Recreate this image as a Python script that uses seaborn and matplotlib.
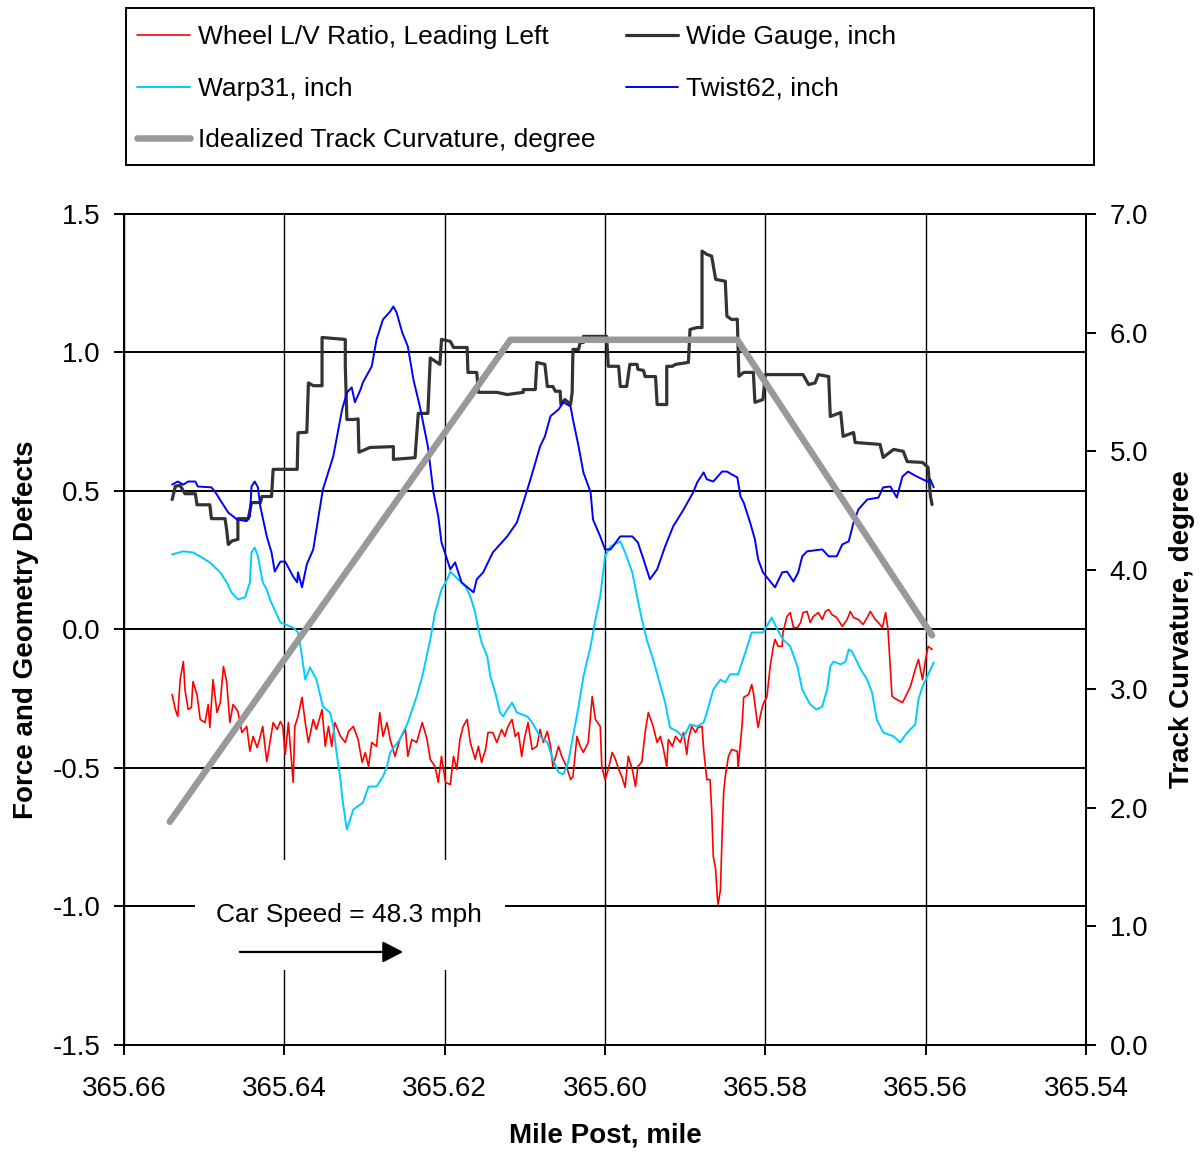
import matplotlib
matplotlib.use("Agg")
import matplotlib.pyplot as plt
import seaborn as sns
import pandas as pd
from matplotlib.patches import Rectangle
from matplotlib.lines import Line2D
from matplotlib.ticker import FormatStrFormatter, MultipleLocator

# ---------------------------------------------------------------- data
# Wheel L/V ratio, leading left wheel
lv_mile = [365.6540, 365.6536, 365.6533, 365.6530, 365.6526, 365.6524, 365.6520, 365.6516,
           365.6514, 365.6509, 365.6505, 365.6499, 365.6495, 365.6493, 365.6489, 365.6484,
           365.6480, 365.6476, 365.6472, 365.6468, 365.6464, 365.6458, 365.6453, 365.6447,
           365.6443, 365.6439, 365.6434, 365.6430, 365.6427, 365.6422, 365.6418, 365.6414,
           365.6409, 365.6405, 365.6402, 365.6399, 365.6395, 365.6389, 365.6387, 365.6383,
           365.6378, 365.6374, 365.6370, 365.6364, 365.6360, 365.6353, 365.6349, 365.6345,
           365.6341, 365.6337, 365.6330, 365.6324, 365.6320, 365.6314, 365.6308, 365.6303,
           365.6299, 365.6295, 365.6291, 365.6285, 365.6281, 365.6277, 365.6272, 365.6268,
           365.6262, 365.6256, 365.6249, 365.6246, 365.6241, 365.6235, 365.6228, 365.6222,
           365.6218, 365.6212, 365.6208, 365.6204, 365.6199, 365.6193, 365.6189, 365.6185,
           365.6181, 365.6177, 365.6172, 365.6168, 365.6162, 365.6158, 365.6154, 365.6149,
           365.6146, 365.6140, 365.6135, 365.6129, 365.6125, 365.6121, 365.6116, 365.6112,
           365.6108, 365.6104, 365.6100, 365.6096, 365.6091, 365.6085, 365.6081, 365.6077,
           365.6072, 365.6068, 365.6065, 365.6058, 365.6054, 365.6048, 365.6043, 365.6040,
           365.6035, 365.6031, 365.6027, 365.6021, 365.6016, 365.6012, 365.6006, 365.6004,
           365.6000, 365.5996, 365.5991, 365.5987, 365.5983, 365.5979, 365.5975, 365.5971,
           365.5966, 365.5962, 365.5959, 365.5954, 365.5950, 365.5946, 365.5940, 365.5935,
           365.5931, 365.5927, 365.5923, 365.5921, 365.5916, 365.5912, 365.5906, 365.5902,
           365.5898, 365.5896, 365.5892, 365.5887, 365.5884, 365.5879, 365.5877, 365.5873,
           365.5869, 365.5867, 365.5865, 365.5862, 365.5860, 365.5859, 365.5856, 365.5854,
           365.5852, 365.5850, 365.5846, 365.5842, 365.5835, 365.5834, 365.5831, 365.5829,
           365.5827, 365.5821, 365.5817, 365.5815, 365.5810, 365.5809, 365.5806, 365.5803,
           365.5798, 365.5794, 365.5790, 365.5788, 365.5784, 365.5779, 365.5778, 365.5773,
           365.5769, 365.5765, 365.5760, 365.5756, 365.5753, 365.5748, 365.5744, 365.5740,
           365.5734, 365.5729, 365.5725, 365.5721, 365.5717, 365.5711, 365.5704, 365.5698,
           365.5694, 365.5690, 365.5684, 365.5678, 365.5673, 365.5669, 365.5663, 365.5659,
           365.5654, 365.5650, 365.5647, 365.5644, 365.5642, 365.5636, 365.5629, 365.5625,
           365.5619, 365.5613, 365.5609, 365.5604, 365.5600, 365.5597, 365.5592]
lv_ratio = [-0.235, -0.289, -0.314, -0.181, -0.116, -0.217, -0.289, -0.282,
            -0.188, -0.235, -0.325, -0.336, -0.271, -0.354, -0.181, -0.300,
            -0.264, -0.134, -0.188, -0.336, -0.271, -0.296, -0.372, -0.350,
            -0.440, -0.386, -0.426, -0.386, -0.350, -0.477, -0.408, -0.336,
            -0.361, -0.332, -0.350, -0.451, -0.336, -0.552, -0.350, -0.314,
            -0.245, -0.336, -0.408, -0.325, -0.361, -0.289, -0.422, -0.350,
            -0.422, -0.336, -0.386, -0.408, -0.368, -0.350, -0.397, -0.480,
            -0.444, -0.495, -0.408, -0.422, -0.300, -0.386, -0.336, -0.397,
            -0.458, -0.397, -0.361, -0.458, -0.397, -0.408, -0.336, -0.397,
            -0.469, -0.495, -0.552, -0.458, -0.552, -0.560, -0.458, -0.505,
            -0.397, -0.350, -0.325, -0.408, -0.469, -0.422, -0.480, -0.433,
            -0.372, -0.372, -0.408, -0.361, -0.386, -0.350, -0.325, -0.386,
            -0.372, -0.458, -0.386, -0.336, -0.433, -0.422, -0.361, -0.408,
            -0.368, -0.422, -0.495, -0.422, -0.458, -0.495, -0.542, -0.531,
            -0.386, -0.422, -0.444, -0.408, -0.242, -0.325, -0.350, -0.495,
            -0.542, -0.505, -0.444, -0.469, -0.505, -0.531, -0.570, -0.458,
            -0.505, -0.567, -0.495, -0.477, -0.372, -0.300, -0.350, -0.408,
            -0.386, -0.433, -0.495, -0.397, -0.422, -0.386, -0.408, -0.372,
            -0.451, -0.397, -0.350, -0.372, -0.354, -0.350, -0.433, -0.542,
            -0.542, -0.650, -0.819, -0.866, -0.964, -0.993, -0.939, -0.747,
            -0.588, -0.531, -0.458, -0.433, -0.440, -0.498, -0.408, -0.343,
            -0.245, -0.235, -0.199, -0.227, -0.336, -0.354, -0.307, -0.271,
            -0.242, -0.134, -0.061, -0.036, -0.061, -0.061, -0.011, 0.047,
            0.061, 0.007, 0.007, 0.025, 0.061, 0.065, 0.025, 0.047,
            0.061, 0.036, 0.065, 0.072, 0.054, 0.043, 0.011, 0.036,
            0.065, 0.043, 0.036, 0.018, 0.043, 0.065, 0.036, 0.025,
            0.007, 0.061, 0.000, -0.144, -0.242, -0.253, -0.264, -0.242,
            -0.206, -0.144, -0.108, -0.181, -0.108, -0.061, -0.072]

# Wide gauge, inch
gauge_mile = [365.6540, 365.6536, 365.6530, 365.6524, 365.6511, 365.6509, 365.6493, 365.6491,
              365.6474, 365.6472, 365.6470, 365.6465, 365.6458, 365.6458, 365.6445, 365.6441,
              365.6430, 365.6428, 365.6416, 365.6414, 365.6384, 365.6383, 365.6372, 365.6370,
              365.6364, 365.6353, 365.6353, 365.6324, 365.6324, 365.6322, 365.6314, 365.6308,
              365.6307, 365.6293, 365.6264, 365.6264, 365.6237, 365.6233, 365.6221, 365.6218,
              365.6206, 365.6204, 365.6193, 365.6189, 365.6172, 365.6171, 365.6160, 365.6158,
              365.6135, 365.6122, 365.6102, 365.6102, 365.6087, 365.6085, 365.6075, 365.6072,
              365.6065, 365.6062, 365.6056, 365.6055, 365.6050, 365.6043, 365.6041, 365.6040,
              365.6033, 365.6031, 365.6027, 365.6027, 365.5998, 365.5996, 365.5983, 365.5981,
              365.5973, 365.5969, 365.5960, 365.5959, 365.5952, 365.5950, 365.5937, 365.5935,
              365.5923, 365.5923, 365.5916, 365.5912, 365.5896, 365.5894, 365.5885, 365.5879,
              365.5879, 365.5873, 365.5867, 365.5862, 365.5850, 365.5848, 365.5842, 365.5835,
              365.5833, 365.5827, 365.5815, 365.5813, 365.5803, 365.5800, 365.5753, 365.5746,
              365.5738, 365.5734, 365.5721, 365.5719, 365.5706, 365.5703, 365.5690, 365.5688,
              365.5657, 365.5653, 365.5640, 365.5628, 365.5623, 365.5604, 365.5597, 365.5594,
              365.5592]
gauge_inch = [0.469, 0.517, 0.520, 0.490, 0.490, 0.450, 0.450, 0.400,
              0.400, 0.360, 0.307, 0.320, 0.325, 0.400, 0.400, 0.458,
              0.458, 0.480, 0.480, 0.578, 0.578, 0.710, 0.712, 0.890,
              0.880, 0.880, 1.054, 1.047, 0.950, 0.758, 0.758, 0.760,
              0.640, 0.657, 0.660, 0.614, 0.620, 0.780, 0.780, 0.980,
              0.957, 1.047, 1.040, 1.018, 1.018, 0.928, 0.928, 0.856,
              0.856, 0.848, 0.856, 0.866, 0.866, 0.964, 0.957, 0.877,
              0.877, 0.860, 0.860, 0.812, 0.830, 0.812, 0.856, 1.011,
              1.011, 1.036, 1.036, 1.058, 1.058, 0.950, 0.950, 0.877,
              0.877, 0.957, 0.957, 0.939, 0.935, 0.913, 0.913, 0.812,
              0.812, 0.950, 0.950, 0.957, 0.964, 1.083, 1.090, 1.090,
              1.366, 1.354, 1.348, 1.264, 1.257, 1.131, 1.119, 1.120,
              0.914, 0.928, 0.928, 0.820, 0.830, 0.920, 0.920, 0.884,
              0.890, 0.920, 0.913, 0.769, 0.783, 0.697, 0.711, 0.675,
              0.668, 0.621, 0.650, 0.643, 0.606, 0.603, 0.585, 0.480,
              0.451]

# Warp31, inch
warp_mile = [365.6540, 365.6526, 365.6514, 365.6503, 365.6493, 365.6480, 365.6472, 365.6466,
             365.6458, 365.6449, 365.6443, 365.6441, 365.6437, 365.6433, 365.6427, 365.6422,
             365.6418, 365.6405, 365.6389, 365.6383, 365.6380, 365.6377, 365.6374, 365.6368,
             365.6360, 365.6352, 365.6343, 365.6339, 365.6335, 365.6330, 365.6328, 365.6324,
             365.6322, 365.6314, 365.6302, 365.6295, 365.6285, 365.6277, 365.6272, 365.6268,
             365.6256, 365.6246, 365.6235, 365.6228, 365.6218, 365.6212, 365.6204, 365.6197,
             365.6193, 365.6183, 365.6174, 365.6168, 365.6162, 365.6158, 365.6154, 365.6147,
             365.6143, 365.6137, 365.6131, 365.6127, 365.6122, 365.6116, 365.6110, 365.6097,
             365.6091, 365.6081, 365.6072, 365.6065, 365.6058, 365.6052, 365.6046, 365.6040,
             365.6033, 365.6027, 365.6018, 365.6012, 365.6006, 365.6000, 365.5993, 365.5981,
             365.5975, 365.5966, 365.5960, 365.5954, 365.5948, 365.5940, 365.5934, 365.5925,
             365.5919, 365.5910, 365.5902, 365.5894, 365.5885, 365.5877, 365.5873, 365.5865,
             365.5856, 365.5850, 365.5844, 365.5834, 365.5825, 365.5817, 365.5803, 365.5792,
             365.5785, 365.5778, 365.5769, 365.5760, 365.5754, 365.5744, 365.5736, 365.5729,
             365.5723, 365.5719, 365.5715, 365.5706, 365.5700, 365.5696, 365.5692, 365.5681,
             365.5673, 365.5667, 365.5661, 365.5653, 365.5640, 365.5632, 365.5623, 365.5613,
             365.5609, 365.5604, 365.5598, 365.5590]
warp_inch = [0.271, 0.282, 0.278, 0.260, 0.242, 0.206, 0.170, 0.134,
             0.108, 0.116, 0.170, 0.278, 0.296, 0.264, 0.170, 0.144,
             0.108, 0.025, 0.007, -0.011, -0.061, -0.119, -0.181, -0.137,
             -0.181, -0.278, -0.300, -0.350, -0.444, -0.542, -0.603, -0.686,
             -0.722, -0.650, -0.625, -0.567, -0.567, -0.531, -0.495, -0.444,
             -0.397, -0.336, -0.242, -0.170, -0.036, 0.061, 0.144, 0.180,
             0.209, 0.180, 0.155, 0.119, 0.061, 0.000, -0.047, -0.097,
             -0.170, -0.227, -0.300, -0.314, -0.289, -0.264, -0.300, -0.314,
             -0.336, -0.386, -0.408, -0.469, -0.516, -0.523, -0.480, -0.386,
             -0.278, -0.170, -0.061, 0.036, 0.119, 0.264, 0.300, 0.318,
             0.278, 0.206, 0.119, 0.036, -0.036, -0.108, -0.170, -0.264,
             -0.354, -0.368, -0.390, -0.343, -0.350, -0.336, -0.300, -0.217,
             -0.181, -0.191, -0.162, -0.162, -0.083, -0.011, -0.011, 0.043,
             0.000, -0.036, -0.061, -0.134, -0.217, -0.271, -0.289, -0.278,
             -0.217, -0.134, -0.116, -0.126, -0.116, -0.072, -0.079, -0.144,
             -0.181, -0.227, -0.325, -0.372, -0.386, -0.408, -0.372, -0.343,
             -0.253, -0.206, -0.170, -0.119]

# Twist62, inch
twist_mile = [365.6540, 365.6533, 365.6526, 365.6520, 365.6511, 365.6508, 365.6491, 365.6486,
              365.6478, 365.6470, 365.6459, 365.6447, 365.6443, 365.6441, 365.6437, 365.6433,
              365.6430, 365.6422, 365.6416, 365.6412, 365.6405, 365.6399, 365.6389, 365.6384,
              365.6383, 365.6378, 365.6372, 365.6364, 365.6352, 365.6339, 365.6328, 365.6322,
              365.6316, 365.6312, 365.6305, 365.6302, 365.6291, 365.6285, 365.6277, 365.6268,
              365.6264, 365.6260, 365.6253, 365.6246, 365.6239, 365.6231, 365.6221, 365.6214,
              365.6208, 365.6204, 365.6197, 365.6193, 365.6187, 365.6179, 365.6164, 365.6160,
              365.6152, 365.6140, 365.6122, 365.6110, 365.6102, 365.6093, 365.6081, 365.6075,
              365.6068, 365.6058, 365.6052, 365.6043, 365.6040, 365.6033, 365.6027, 365.6018,
              365.6015, 365.6006, 365.6000, 365.5993, 365.5981, 365.5966, 365.5959, 365.5952,
              365.5944, 365.5935, 365.5925, 365.5915, 365.5902, 365.5890, 365.5885, 365.5877,
              365.5873, 365.5865, 365.5854, 365.5848, 365.5842, 365.5835, 365.5831, 365.5827,
              365.5819, 365.5813, 365.5809, 365.5803, 365.5796, 365.5788, 365.5779, 365.5773,
              365.5765, 365.5759, 365.5754, 365.5748, 365.5729, 365.5721, 365.5711, 365.5704,
              365.5696, 365.5690, 365.5684, 365.5673, 365.5659, 365.5653, 365.5644, 365.5636,
              365.5629, 365.5622, 365.5611, 365.5598, 365.5594, 365.5590]
twist_inch = [0.523, 0.534, 0.523, 0.534, 0.534, 0.516, 0.513, 0.495,
              0.458, 0.422, 0.397, 0.391, 0.408, 0.516, 0.534, 0.513,
              0.444, 0.336, 0.278, 0.209, 0.245, 0.245, 0.191, 0.170,
              0.206, 0.152, 0.235, 0.289, 0.505, 0.625, 0.794, 0.855,
              0.874, 0.820, 0.866, 0.892, 0.950, 1.047, 1.119, 1.148,
              1.166, 1.144, 1.072, 1.022, 0.902, 0.805, 0.661, 0.495,
              0.408, 0.314, 0.253, 0.217, 0.242, 0.170, 0.134, 0.181,
              0.206, 0.278, 0.336, 0.386, 0.458, 0.542, 0.661, 0.697,
              0.770, 0.794, 0.820, 0.805, 0.758, 0.661, 0.567, 0.495,
              0.397, 0.336, 0.289, 0.289, 0.336, 0.336, 0.314, 0.253,
              0.181, 0.217, 0.300, 0.372, 0.433, 0.495, 0.531, 0.567,
              0.542, 0.534, 0.570, 0.570, 0.560, 0.549, 0.480, 0.458,
              0.386, 0.325, 0.253, 0.206, 0.181, 0.152, 0.206, 0.209,
              0.173, 0.206, 0.264, 0.282, 0.289, 0.264, 0.264, 0.307,
              0.318, 0.386, 0.433, 0.469, 0.476, 0.513, 0.516, 0.476,
              0.552, 0.570, 0.552, 0.534, 0.541, 0.513]

# Idealized track curvature, degree
curve_mile = [365.6543, 365.6118, 365.5835, 365.5592]
curve_deg = [1.88, 5.94, 5.94, 3.45]

x_ticks = [365.66, 365.64, 365.62, 365.60, 365.58, 365.56, 365.54]

# ---------------------------------------------------------------- style
sns.set_style("white")
plt.rcParams["font.family"] = ["Liberation Sans", "DejaVu Sans"]
plt.rcParams["axes.unicode_minus"] = False
for key in ("text.color", "axes.labelcolor", "xtick.color", "ytick.color",
            "axes.edgecolor"):
    plt.rcParams[key] = "black"

FS = 20      # ticks and axis titles
LFS = 19     # legend and annotation

fig = plt.figure(figsize=(12.02, 11.54), dpi=100)
ax = fig.add_axes([0.1032, 0.0945, 0.8003, 0.7201])
ax2 = ax.twinx()

series = [
    (lv_mile, lv_ratio, "#FF0000", 1.2, "Wheel L/V Ratio, Leading Left"),
    (gauge_mile, gauge_inch, "#333333", 2.3, "Wide Gauge, inch"),
    (warp_mile, warp_inch, "#00CCFF", 1.4, "Warp31, inch"),
    (twist_mile, twist_inch, "#0000FF", 1.4, "Twist62, inch"),
]
handles = {}
for xs, ys, col, lw, name in series:
    df = pd.DataFrame({"mile": xs, "value": ys})
    sns.lineplot(data=df, x="mile", y="value", ax=ax, color=col, lw=lw,
                 sort=False, estimator=None, legend=False, zorder=2)
    handles[name] = Line2D([], [], color=col, lw=lw)

cdf = pd.DataFrame({"mile": curve_mile, "deg": curve_deg})
sns.lineplot(data=cdf, x="mile", y="deg", ax=ax2, color="#999999", lw=4.7,
             sort=False, estimator=None, legend=False, solid_capstyle="round")
handles["Idealized Track Curvature, degree"] = Line2D([], [], color="#999999", lw=4.7,
                                                      solid_capstyle="round")

# axes ranges and ticks
ax.set_xlim(365.66, 365.54)
ax.set_ylim(-1.5, 1.5)
ax2.set_ylim(0, 7)
ax.set_xticks(x_ticks)
ax.xaxis.set_major_formatter(FormatStrFormatter("%.2f"))
ax.yaxis.set_major_locator(MultipleLocator(0.5))
ax.yaxis.set_major_formatter(FormatStrFormatter("%.1f"))
ax2.yaxis.set_major_locator(MultipleLocator(1.0))
ax2.yaxis.set_major_formatter(FormatStrFormatter("%.1f"))

ax.set_axisbelow(True)
ax.grid(axis="y", color="black", lw=1.4, zorder=0.5)
ax.grid(axis="x", color="black", lw=1.0, zorder=0.5)
ax2.grid(False)

for a in (ax, ax2):
    for s in a.spines.values():
        s.set_color("black")
        s.set_linewidth(1.4)
    a.tick_params(direction="out", length=7, width=1.4, colors="black",
                  labelsize=FS, pad=10)
ax.tick_params(axis="x", bottom=True, pad=15)
ax.tick_params(axis="y", left=True)
ax2.tick_params(axis="y", right=True)

ax.set_xlabel("Mile Post, mile", fontsize=FS, fontweight="bold", labelpad=15)
ax.set_ylabel("Force and Geometry Defects", fontsize=FS, fontweight="bold", labelpad=10)
ax2.set_ylabel("Track Curvature, degree", fontsize=FS, fontweight="bold", labelpad=15)

# speed annotation on a white panel
ax.add_patch(Rectangle((0.0738, 0.0903), 0.3222, 0.1323, transform=ax.transAxes,
                       facecolor="white", edgecolor="none", zorder=1.5))
ax.text(0.234, 0.1564, "Car Speed = 48.3 mph", transform=ax.transAxes,
        ha="center", va="center", fontsize=LFS, zorder=3)
ax.annotate("", xy=(0.293, 0.1119), xytext=(0.1175, 0.1119),
            xycoords="axes fraction", textcoords="axes fraction",
            arrowprops=dict(arrowstyle="-|>,head_length=1.25,head_width=0.65",
                            color="black", lw=1.6), zorder=3)

# legend with a wide rectangular frame
order = ["Wheel L/V Ratio, Leading Left", "Warp31, inch",
         "Idealized Track Curvature, degree", "Wide Gauge, inch", "Twist62, inch"]
fig.legend([handles[k] for k in order], order, loc="upper left",
           bbox_to_anchor=(0.114, 0.978), ncol=2, fontsize=LFS,
           frameon=False, handlelength=2.0, handletextpad=0.3,
           columnspacing=1.15, labelspacing=1.04, borderpad=0, borderaxespad=0)
fig.patches.append(Rectangle((126 / 1202, 1 - 165 / 1154), 968 / 1202, 157 / 1154,
                             transform=fig.transFigure, fill=False,
                             edgecolor="black", lw=1.4))

fig.savefig("out.png", dpi=100, facecolor="white")
